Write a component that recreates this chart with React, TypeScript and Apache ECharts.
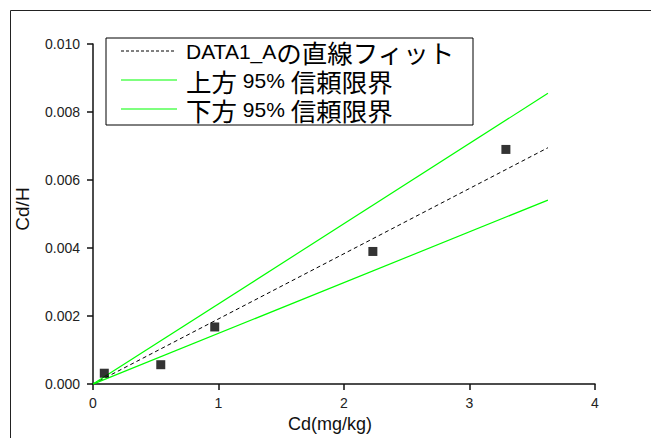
import React, { useEffect, useRef } from "react";
import * as echarts from "echarts";

const xData = [0.09, 0.54, 0.97, 2.23, 3.29];
const yData = [0.00032, 0.00057, 0.00168, 0.0039, 0.0069];
const fitX = [0, 3.625];
const fitY = [0, 0.00695];
const upperY = [0, 0.00855];
const lowerY = [0, 0.00541];
const xTicks = [0, 1, 2, 3, 4];
const yTicks = [0, 0.002, 0.004, 0.006, 0.008, 0.01];
const legendNames = ["DATA1_Aの直線フィット", "上方 95% 信頼限界", "下方 95% 信頼限界"];

const LAT = "'Liberation Sans', Arial, sans-serif";
const CJK = "'Noto Sans CJK JP', sans-serif";

export default function App() {
  const ref = useRef<HTMLDivElement>(null);
  useEffect(() => {
    if (!ref.current) return;
    const chart = echarts.init(ref.current, null, { renderer: "svg" });
    const pts = xData.map((x, i) => [x, yData[i]]);
    const mk = (ys: number[]) => fitX.map((x, i) => [x, ys[i]]);
    const rich = {
      l: { fontFamily: LAT, fontSize: 21, fill: "#000", lineHeight: 24, verticalAlign: "middle" },
      c: { fontFamily: CJK, fontSize: 25.5, fill: "#000", lineHeight: 24, verticalAlign: "middle" },
    };
    const rowY = [51, 80, 109];
    const richTexts = [
      "{l|DATA1_A}{c|の直線フィット}",
      "{c|上方}{l| 95% }{c|信頼限界}",
      "{c|下方}{l| 95% }{c|信頼限界}",
    ];
    chart.setOption({
      animation: false,
      backgroundColor: "#fff",
      grid: { left: 93, top: 44, right: 56, bottom: 46, containLabel: false },
      xAxis: {
        type: "value",
        min: xTicks[0],
        max: xTicks[xTicks.length - 1],
        interval: 1,
        name: "Cd(mg/kg)",
        nameLocation: "middle",
        nameGap: 28,
        nameTextStyle: { fontFamily: LAT, fontSize: 18, color: "#111", padding: [0, 28, 0, 0] },
        axisLine: { lineStyle: { color: "#111", width: 1.5 } },
        axisTick: { show: true, length: 6, lineStyle: { color: "#111", width: 1.5 } },
        axisLabel: { fontFamily: LAT, fontSize: 14, color: "#222", margin: 12 },
        splitLine: { show: false },
      },
      yAxis: {
        type: "value",
        min: yTicks[0],
        max: yTicks[yTicks.length - 1],
        interval: 0.002,
        name: "Cd/H",
        nameLocation: "middle",
        nameGap: 61,
        nameRotate: 90,
        nameTextStyle: { fontFamily: LAT, fontSize: 19, color: "#111", padding: [0, 0, 0, 10] },
        axisLine: { show: true, lineStyle: { color: "#111", width: 1.5 } },
        axisTick: { show: true, length: 6, lineStyle: { color: "#111", width: 1.5 } },
        axisLabel: {
          fontFamily: LAT,
          fontSize: 14,
          color: "#222",
          margin: 13,
          formatter: (v: number) => v.toFixed(3),
        },
        splitLine: { show: false },
      },
      series: [
        {
          name: legendNames[0],
          type: "line",
          data: mk(fitY),
          symbol: "none",
          lineStyle: { color: "#000", width: 1, type: [4, 3] },
          z: 2,
        },
        {
          name: legendNames[1],
          type: "line",
          data: mk(upperY),
          symbol: "none",
          lineStyle: { color: "#00ff00", width: 1.2 },
          z: 2,
        },
        {
          name: legendNames[2],
          type: "line",
          data: mk(lowerY),
          symbol: "none",
          lineStyle: { color: "#00ff00", width: 1.2 },
          z: 2,
        },
        {
          name: "DATA1_A",
          type: "scatter",
          data: pts,
          symbol: "rect",
          symbolSize: 9,
          itemStyle: { color: "#000" },
          z: 5,
        },
      ],
      graphic: [
        {
          type: "rect",
          shape: { x: 10.5, y: 10.5, width: 700, height: 500 },
          style: { fill: "none", stroke: "#222", lineWidth: 1 },
          silent: true,
          z: 0,
        },
        {
          type: "group",
          children: [
            {
              type: "rect",
              shape: { x: 106, y: 38, width: 367, height: 87 },
              style: { fill: "#fff", stroke: "#000", lineWidth: 1 },
              z: 10,
            },
            {
              type: "line",
              shape: { x1: 121, y1: rowY[0], x2: 175, y2: rowY[0] },
              style: { stroke: "#000", lineWidth: 1, lineDash: [3, 2] },
              z: 11,
            },
            {
              type: "line",
              shape: { x1: 121, y1: rowY[1], x2: 177, y2: rowY[1] },
              style: { stroke: "#00ff00", lineWidth: 1.2 },
              z: 11,
            },
            {
              type: "line",
              shape: { x1: 121, y1: rowY[2], x2: 177, y2: rowY[2] },
              style: { stroke: "#00ff00", lineWidth: 1.2 },
              z: 11,
            },
            ...richTexts.map((t, i) => ({
              type: "text",
              x: 186,
              y: rowY[i],
              z: 11,
              style: {
                text: t,
                rich,
                verticalAlign: "middle",
                align: "left",
                fill: "#000",
              },
            })),
          ],
        },
      ],
    });
    return () => chart.dispose();
  }, []);
  return (
    <div
      ref={ref}
      style={{ position: "fixed", left: 0, top: 0, width: 651, height: 438 }}
    />
  );
}
